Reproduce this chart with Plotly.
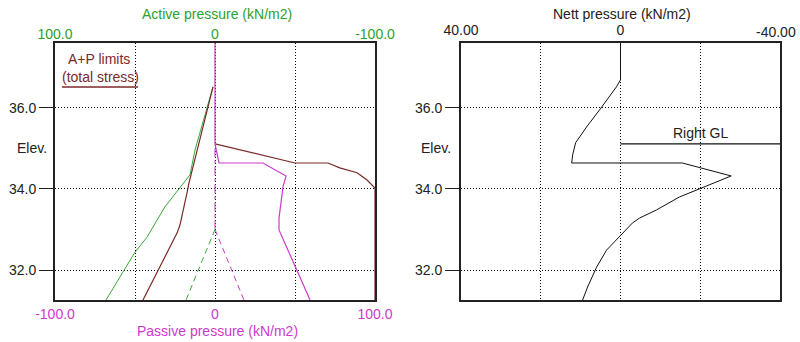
import plotly.graph_objects as go

W, H = 800, 342

# ---------------- data (left panel) ----------------
# Active pressure (kN/m2) - positive to the left on the top axis
act_total_p = [1.25, 12.5, 15.6, 21.9, 31.25, 36.25, 42.5, 50.0, 68.1]
act_total_z = [36.52, 34.96, 34.35, 34.02, 33.56, 33.23, 32.81, 32.44, 31.26]
act_water_p = [0.0, 18.1]
act_water_z = [33.0, 31.26]

# A+P limits (total stress)
lim_act_p = [1.25, 11.25, 13.75, 16.25, 17.5, 20.6, 21.9, 23.75, 45.0]
lim_act_z = [36.52, 34.96, 34.59, 34.15, 33.90, 33.31, 33.11, 32.91, 31.26]
lim_pas_p = [0.0, 50.0, 70.6, 78.0, 88.8, 95.0, 100.0, 100.0]
lim_pas_z = [35.11, 34.64, 34.64, 34.52, 34.40, 34.22, 34.02, 31.26]

# Passive pressure (kN/m2)
pas_total_p = [0.0, 0.0, 2.5, 30.0, 44.4, 42.5, 40.0, 40.0, 59.4]
pas_total_z = [37.6, 35.11, 34.64, 34.64, 34.32, 34.05, 33.28, 32.99, 31.26]
pas_zero_p = [0.0, 0.0]
pas_zero_z = [35.0, 33.0]
pas_water_p = [0.0, 18.1]
pas_water_z = [33.0, 31.26]

# ---------------- data (right panel) ----------------
nett_p = [0, 0, 1, 3.5, 5.25, 8.5, 11.25, 12.0, 12.25, -15.5, -27.75, -19.75,
          -14.75, -9.0, -4.75, -3.0, 0.0, 3.5, 6.0, 8.25, 9.5]
nett_z = [37.6, 36.69, 36.52, 36.2, 35.95, 35.53, 35.14, 34.84, 34.64, 34.64,
          34.32, 34.0, 33.80, 33.48, 33.28, 33.16, 32.86, 32.49, 32.07, 31.58, 31.26]
right_gl_p = [0, -40]
right_gl_z = [35.11, 35.11]

elev_ticks = [32, 34, 36]
elev_labels = ["32.0", "34.0", "36.0"]
elev_range = [31.26, 37.6]

ap_ticks = [-100, -50, 0, 50, 100]
pas_labels = ["-100.0", "", "0", "", "100.0"]
act_ticks = [100, 0, -100]
act_labels = ["100.0", "0", "-100.0"]
nett_ticks = [40, 20, 0, -20, -40]
nett_labels = ["40.00", "", "0", "", ""]
nett_edge_label = "-40.00"

GREEN = "#3aa83a"
GREEN_T = "#2e9e2e"
MAG = "#cc3acc"
BROWN = "#7a2a2a"
TXT = "#222222"
FONT = "Liberation Sans, Arial, sans-serif"
FS = 14

fig = go.Figure()

# left panel traces
fig.add_trace(go.Scatter(x=act_total_p, y=act_total_z, xaxis="x3", yaxis="y",
                         mode="lines", line=dict(color=GREEN, width=1)))
fig.add_trace(go.Scatter(x=act_water_p, y=act_water_z, xaxis="x3", yaxis="y",
                         mode="lines", line=dict(color=GREEN, width=1, dash="6px,4px")))
fig.add_trace(go.Scatter(x=lim_act_p, y=lim_act_z, xaxis="x3", yaxis="y",
                         mode="lines", line=dict(color=BROWN, width=1.2)))
fig.add_trace(go.Scatter(x=lim_pas_p, y=lim_pas_z, xaxis="x", yaxis="y",
                         mode="lines", line=dict(color=BROWN, width=1.2)))
fig.add_trace(go.Scatter(x=pas_water_p, y=pas_water_z, xaxis="x", yaxis="y",
                         mode="lines", line=dict(color=MAG, width=1, dash="6px,4px")))
fig.add_trace(go.Scatter(x=pas_zero_p, y=pas_zero_z, xaxis="x", yaxis="y",
                         mode="lines", line=dict(color=MAG, width=1, dash="dashdot")))
fig.add_trace(go.Scatter(x=pas_total_p, y=pas_total_z, xaxis="x", yaxis="y",
                         mode="lines", line=dict(color=MAG, width=1.2)))

# right panel traces
fig.add_trace(go.Scatter(x=nett_p, y=nett_z, xaxis="x2", yaxis="y2",
                         mode="lines", line=dict(color="#111111", width=1)))
fig.add_trace(go.Scatter(x=right_gl_p, y=right_gl_z, xaxis="x2", yaxis="y2",
                         mode="lines", line=dict(color="#111111", width=1.2)))

dom_y = [1 - 300 / H, 1 - 43 / H]
dom_l = [55 / W, 375 / W]
dom_r = [461 / W, 780 / W]

grid = dict(showgrid=True, gridcolor="#000000", gridwidth=1, griddash="1px,2px",
            zeroline=False, automargin=False)
frame = dict(showline=True, linecolor="#222222", linewidth=2, mirror=True)

yax = dict(range=elev_range, tickvals=elev_ticks, ticktext=elev_labels,
           ticks="outside", ticklen=14, tickcolor="#222222", tickwidth=1,
           tickfont=dict(family=FONT, size=FS, color=TXT), domain=dom_y,
           **grid, **frame)

fig.update_layout(
    width=W, height=H, margin=dict(l=0, r=0, t=0, b=0, autoexpand=False),
    paper_bgcolor="white", plot_bgcolor="white", showlegend=False,
    font=dict(family=FONT, size=FS, color=TXT),
    xaxis=dict(domain=dom_l, range=[-100, 100], anchor="y", side="bottom",
               tickvals=ap_ticks, ticktext=pas_labels, ticks="",
               tickfont=dict(family=FONT, size=FS, color=MAG), **grid, **frame),
    xaxis3=dict(overlaying="x", anchor="y", side="top", range=[100, -100],
                tickvals=act_ticks, ticktext=act_labels, ticks="",
                showgrid=False, zeroline=False, showline=False, automargin=False,
                tickfont=dict(family=FONT, size=FS, color=GREEN_T)),
    yaxis=dict(anchor="x", **yax),
    xaxis2=dict(domain=dom_r, range=[40, -40], anchor="y2", side="top",
                tickvals=nett_ticks, ticktext=nett_labels, ticks="",
                tickfont=dict(family=FONT, size=FS, color=TXT), **grid, **frame),
    yaxis2=dict(anchor="x2", **yax),
)

ann = [
    dict(text="Active pressure (kN/m2)", x=217 / W, y=1 - 14 / H, color=GREEN_T),
    dict(text="Passive pressure (kN/m2)", x=217 / W, y=1 - 331 / H, color=MAG),
    dict(text="Nett pressure (kN/m2)", x=622 / W, y=1 - 14 / H, color=TXT),
    dict(text=nett_edge_label, x=776 / W, y=1 - 32 / H, color=TXT),
    dict(text="Elev.", x=32 / W, y=1 - 148 / H, color=TXT),
    dict(text="Elev.", x=436 / W, y=1 - 148 / H, color=TXT),
    dict(text="A+P limits", x=99 / W, y=1 - 59 / H, color=BROWN),
    dict(text="(total stress)", x=100 / W, y=1 - 77 / H, color=BROWN),
]
for a in ann:
    fig.add_annotation(text=a["text"], x=a["x"], y=a["y"], xref="paper", yref="paper",
                       xanchor="center", yanchor="middle", showarrow=False,
                       font=dict(family=FONT, size=FS, color=a["color"]))
fig.add_annotation(text="Right GL", x=-20, y=35.11, xref="x2", yref="y2",
                   xanchor="center", yanchor="bottom", yshift=1, showarrow=False,
                   font=dict(family=FONT, size=FS, color=TXT))
fig.add_shape(type="line", xref="paper", yref="paper", x0=62 / W, x1=138 / W,
              y0=1 - 87 / H, y1=1 - 87 / H, line=dict(color=BROWN, width=1.5))

fig.write_html("out.html")
